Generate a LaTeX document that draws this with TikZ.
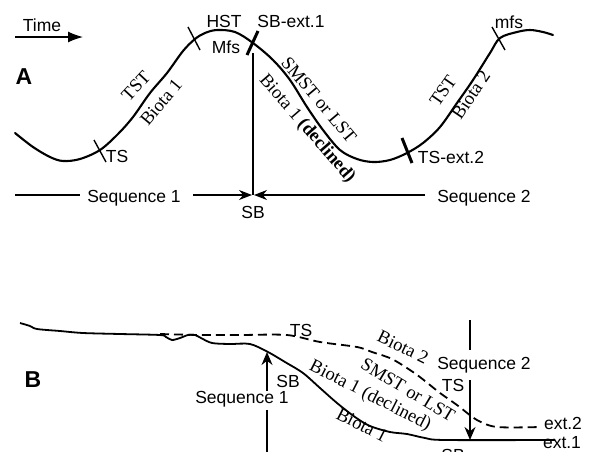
\documentclass[tikz,border=0pt]{standalone}
\usepackage{fontspec}
\setmainfont{Liberation Sans}
\newfontfamily\tms{Liberation Serif}
\usetikzlibrary{arrows.meta}
\begin{document}
\begin{tikzpicture}[x=1pt,y=-1pt,
  lbl/.style={font=\fontsize{17.5}{20}\selectfont, inner sep=0pt},
  slbl/.style={font=\tms\fontsize{18.5}{21}\selectfont, inner sep=0pt},
  big/.style={font=\fontsize{23}{26}\selectfont\bfseries, inner sep=0pt},
  curve/.style={line width=2.1pt, line join=round, line cap=round},
  tickthin/.style={line width=1.4pt},
  tickthick/.style={line width=3pt},
  conn/.style={line width=1.3pt},
  arr/.style={-{Stealth[length=13pt,width=10pt]}},
  arrB/.style={-{Stealth[length=13pt,width=11pt]}},
  dsh/.style={line width=1.8pt, dash pattern=on 9pt off 5pt}
]
\useasboundingbox (0,0) rectangle (592,451);

% ---------------- Part A ----------------
\node[big] (A) at (24,77) {A};
\node[lbl] (time) at (42,25) {Time};
\coordinate (t0) at (15,37);
\coordinate (t1) at (83,37);
\draw[conn,-{Latex[length=15pt,width=11pt]}] (t0) -- (t1);

\draw[curve] plot[smooth, tension=0.55] coordinates {
(15,133) (33,147) (50,157) (63,161) (80,159) (100,150) (118,134) (133,117)
(150,93) (167,73) (183,51) (195,39) (205,33) (217,30) (235,32) (253,43)
(273,60) (290,80) (307,107) (323,130) (340,150) (357,159) (373,162)
(390,160) (407,153) (423,143) (440,127) (457,103) (473,80) (490,53) (500,38)
(517,32) (530,30) (543,32) (553,35)};

% ticks
\coordinate (k1a) at (94,140);  \coordinate (k1b) at (106,162);
\coordinate (k2a) at (188,27);  \coordinate (k2b) at (200,50);
\coordinate (k3a) at (258,31);  \coordinate (k3b) at (247,55);
\coordinate (k4a) at (402,138); \coordinate (k4b) at (412,163);
\coordinate (k5a) at (492,27);  \coordinate (k5b) at (505,50);
\draw[tickthin] (k1a) -- (k1b);
\draw[tickthin] (k2a) -- (k2b);
\draw[tickthick] (k3a) -- (k3b);
\draw[tickthick] (k4a) -- (k4b);
\draw[tickthin] (k5a) -- (k5b);

\node[lbl] (hst) at (224,21) {HST};
\node[lbl] (sbext) at (291,21) {SB-ext.1};
\node[lbl] (mfsA) at (226,47) {Mfs};
\node[lbl] (tsA) at (117,156) {TS};
\node[lbl] (tsext) at (451,157) {TS-ext.2};
\node[lbl] (mfs) at (509,22) {mfs};

\node[slbl, rotate=47] (tst1) at (136,86) {TST};
\node[slbl, rotate=50] (bio1) at (161,102) {Biota 1};
\node[slbl, rotate=-50] (smst) at (319,100) {SMST or LST};
\node[slbl, rotate=-49] (decl) at (307,129) {Biota 1 \textbf{(declined)}};
\node[slbl, rotate=55] (tst2) at (443,91) {TST};
\node[slbl, rotate=56] (bio2) at (471,95) {Biota 2};

% sequence boundary lines
\coordinate (sbtop) at (253,53);
\coordinate (sbm) at (253,195);
\coordinate (sbL) at (252,195);
\coordinate (sbR) at (254,195);
\draw[conn] (sbtop) -- (sbm);
\node[lbl] (seq1) at (134,198) {Sequence 1};
\node[lbl] (seq2) at (484,198) {Sequence 2};
\node[lbl] (sbA) at (253,212) {SB};
\coordinate (l0) at (15,195);
\coordinate (l1) at (80,195);
\coordinate (l2) at (193,195);
\coordinate (r1) at (425,195);
\draw[conn] (l0) -- (l1);
\draw[conn,arr] (l2) -- (sbL);
\draw[conn,arr] (r1) -- (sbR);

% ---------------- Part B ----------------
\node[big] (B) at (33,380) {B};

\draw[line width=1.8pt, line join=round] plot[smooth, tension=0.5] coordinates {
(20,323) (30,326) (37,329) (60,331) (83,333) (120,334) (160,335) (166,337)
(172,340) (180,338) (188,335) (195,335) (201,338) (212,343) (230,344) (250,344)
(268,352) (285,362) (303,373) (320,388) (337,403) (355,417) (370,426) (390,432)
(407,434) (425,438) (445,440) (555,440)};

\draw[dsh] plot[smooth, tension=0.5] coordinates {
(160,334) (200,335) (240,335) (287,335) (320,342) (357,347) (372,352)
(392,359) (413,372) (425,381) (440,393) (457,405) (477,420) (497,427) (540,427)};

\node[lbl] (tsB) at (301,330) {TS};
\node[lbl] (sbB) at (288,381) {SB};
\node[lbl] (seq1B) at (242,399) {Sequence 1};
\node[lbl] (seq2B) at (484,365) {Sequence 2};
\node[lbl] (tsB2) at (453,385) {TS};
\node[lbl] (ext2) at (563,423) {ext.2};
\node[lbl] (ext1) at (562,443) {ext.1};
\node[lbl] (sbB2) at (453,455) {SB};

\node[slbl, rotate=-26] (bio2B) at (403,347) {Biota 2};
\node[slbl, rotate=-31] (smstB) at (408,390) {SMST or LST};
\node[slbl, rotate=-27] (declB) at (370,396) {Biota 1 (declined)};
\node[slbl, rotate=-27] (bio1B) at (362,425) {Biota 1};

% arrows in B
\coordinate (s1bot) at (267,455);
\coordinate (s1gap1) at (267,410);
\coordinate (s1gap2) at (267,391);
\coordinate (s1tip) at (267,352);
\draw[conn] (s1bot) -- (s1gap1);
\draw[conn,arrB] (s1gap2) -- (s1tip);

\coordinate (s2top) at (470,320);
\coordinate (s2gap1) at (470,350);
\coordinate (s2gap2) at (470,380);
\coordinate (s2tip) at (470,440);
\draw[conn] (s2top) -- (s2gap1);
\draw[conn,arrB] (s2gap2) -- (s2tip);
\end{tikzpicture}
\end{document}
